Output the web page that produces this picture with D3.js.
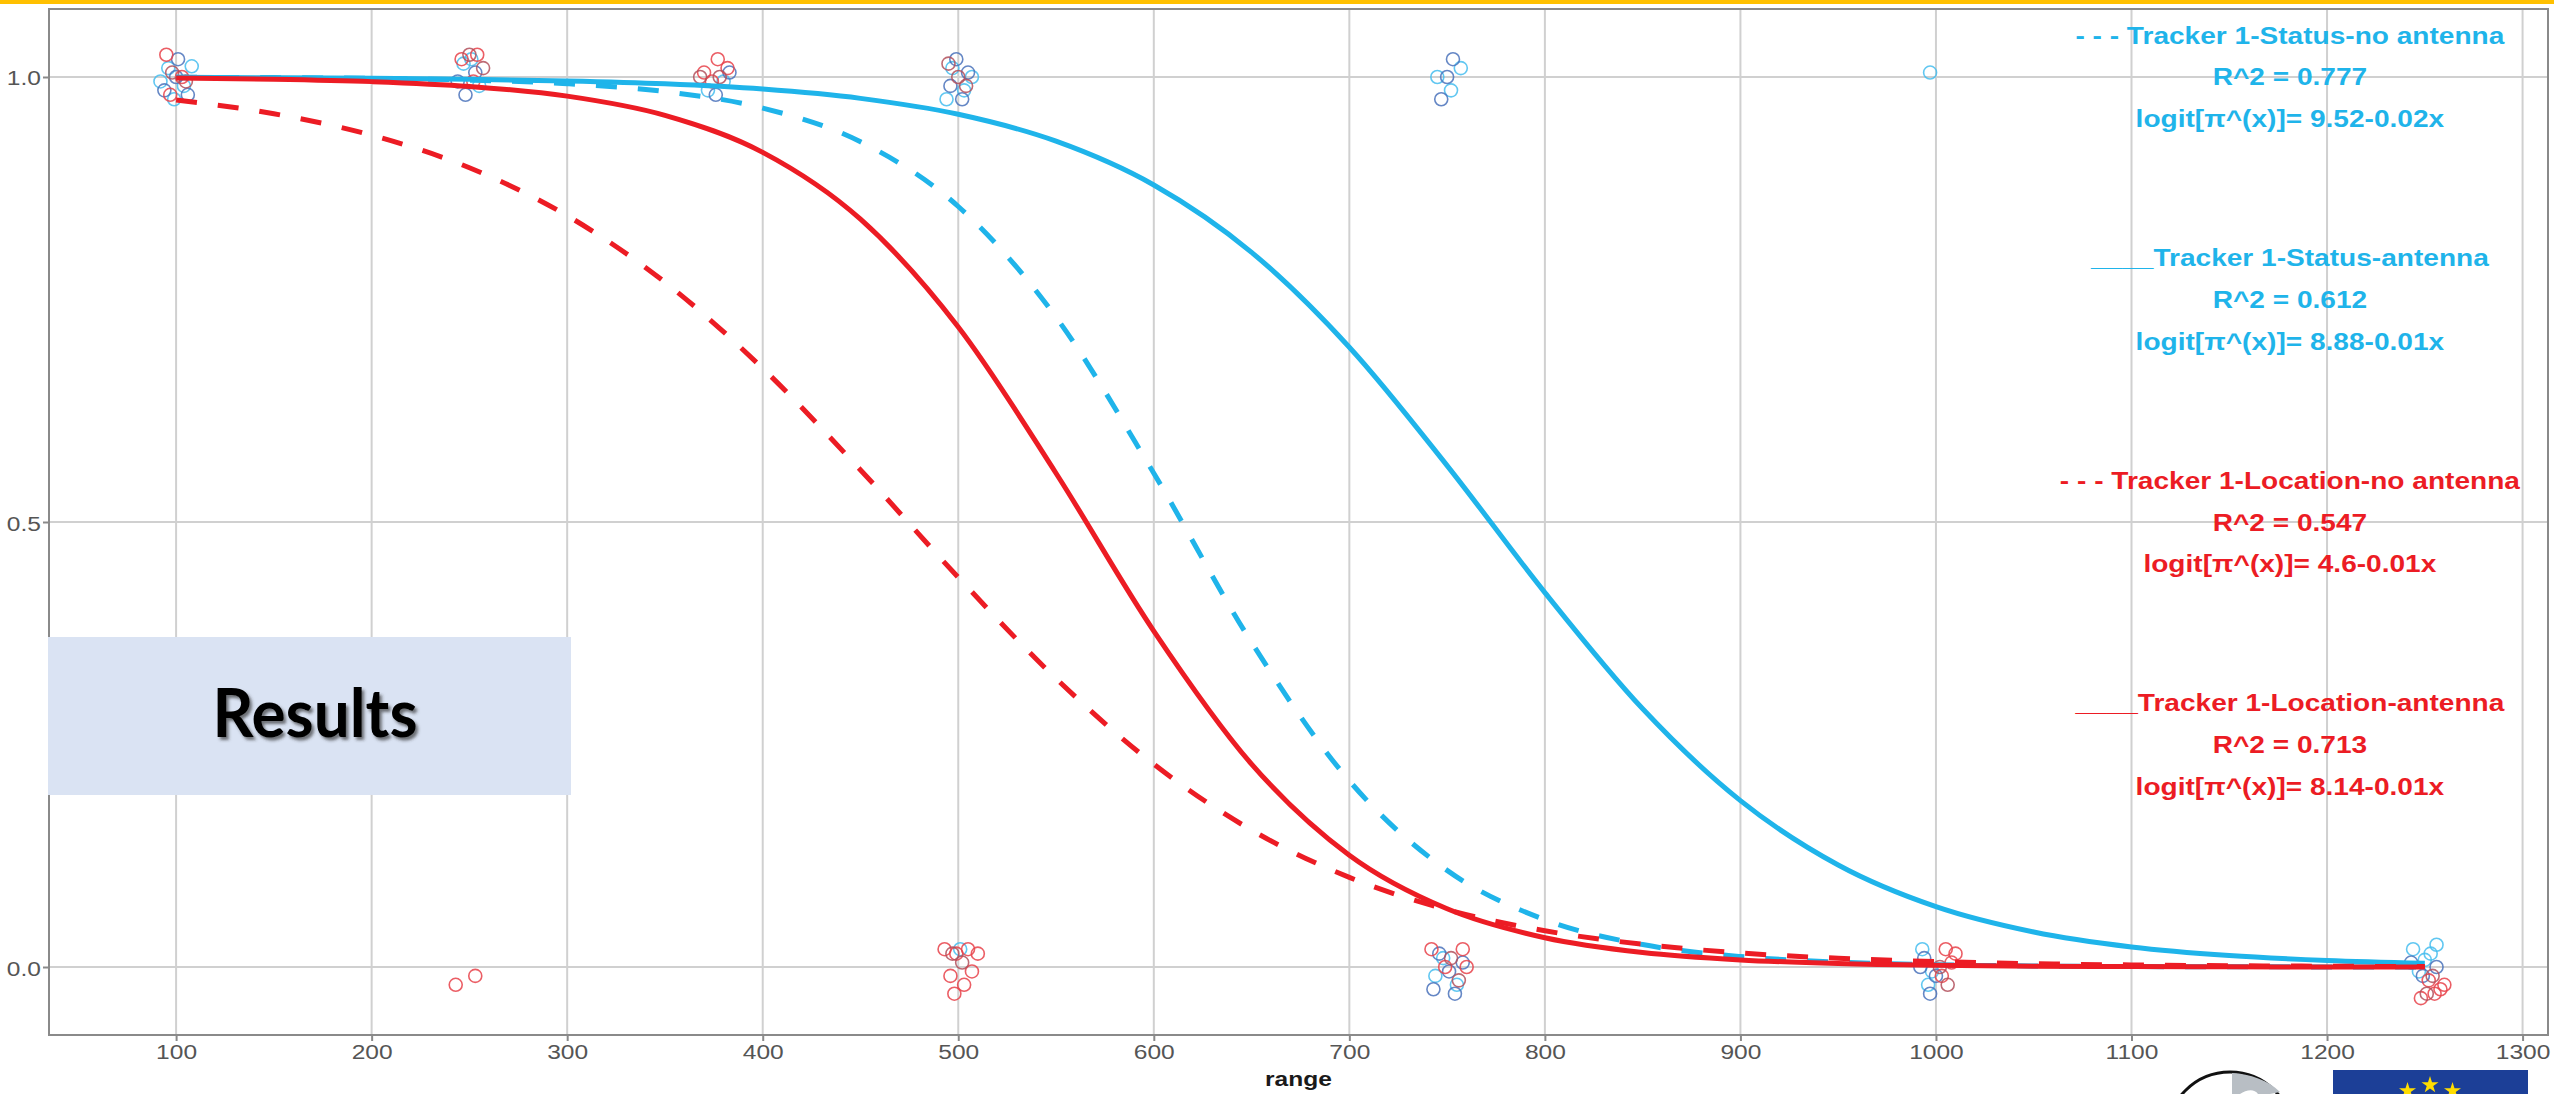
<!DOCTYPE html>
<html>
<head>
<meta charset="utf-8">
<script src="https://cdn.jsdelivr.net/npm/d3@7/dist/d3.min.js"></script>
<style>
  html, body { margin: 0; padding: 0; background: #fff; }
  svg { display: block; }
</style>
</head>
<body>
<div id="chart"></div>
<script>
// ---- data ----
var xTicks = [100, 200, 300, 400, 500, 600, 700, 800, 900, 1000, 1100, 1200, 1300];
var yTicks = [0, 0.5, 1];
var yTickLabels = ['0.0', '0.5', '1.0'];

// fitted curves, read at every 50 m of range
var curveRange = [100, 150, 200, 250, 300, 350, 400, 450, 500, 550, 600, 650,
                  700, 750, 800, 850, 900, 950, 1000, 1050, 1100, 1150, 1200, 1250];
var statusNoAntenna = [0.9997, 0.9993, 0.9984, 0.9965, 0.9924, 0.9836, 0.9651, 0.9272, 0.8545, 0.7301, 0.5548, 0.3647,
                       0.2092, 0.1086, 0.0531, 0.0252, 0.0118, 0.0055, 0.0025, 0.0012, 0.0005, 0.0003, 0.0001, 0.0001];
var statusAntenna = [0.9996, 0.9992, 0.9986, 0.9975, 0.9956, 0.9923, 0.9864, 0.9760, 0.9581, 0.9279, 0.8787, 0.8030,
                     0.6964, 0.5634, 0.4207, 0.2901, 0.1869, 0.1146, 0.0678, 0.0393, 0.0225, 0.0128, 0.0073, 0.0041];
var locationNoAntenna = [0.9742, 0.9587, 0.9346, 0.8980, 0.8442, 0.7694, 0.6726, 0.5585, 0.4378, 0.3241, 0.2280, 0.1538,
                         0.1007, 0.0645, 0.0407, 0.0255, 0.0158, 0.0098, 0.0061, 0.0037, 0.0023, 0.0014, 0.0009, 0.0005];
var locationAntenna = [0.9988, 0.9975, 0.9948, 0.9894, 0.9785, 0.9569, 0.9153, 0.8402, 0.7191, 0.5548, 0.3775, 0.2280,
                       0.1256, 0.0654, 0.0329, 0.0163, 0.0080, 0.0039, 0.0019, 0.0009, 0.0005, 0.0002, 0.0001, 0.0001];

// jittered observations [range, outcome]
var ptsStatusNoAntenna = [[96,1.01],[104,0.99],[99,0.975],[108,1.012],[92,0.995],
  [247,1.015],[255,0.99],[251,1.02],[372,0.985],[380,0.995],
  [497,1.01],[503,0.985],[507,1.0],[494,0.975],[501,0.02],
  [745,1.0],[752,0.985],[757,1.01],[748,0.01],[755,-0.02],[744,-0.01],
  [997,1.005],[993,0.02],[998,-0.005],[996,-0.02],
  [1244,0.02],[1250,0.008],[1256,0.025],[1247,-0.005],[1253,0.015]];
var ptsStatusAntenna = [[100,1.0],[94,0.985],[106,0.98],[101,1.02],
  [244,0.995],[253,1.005],[248,0.98],[376,0.98],[383,1.005],
  [499,1.02],[505,1.005],[496,0.99],[502,0.975],
  [747,0.975],[753,1.02],[750,1.0],[746,0.015],[751,-0.005],[758,0.005],[743,-0.025],[754,-0.03],
  [994,0.01],[1000,-0.01],[992,0.0],[997,-0.03],
  [1249,-0.01],[1243,0.005],[1256,0.0]];
var ptsLocationNoAntenna = [[95,1.025],[103,1.0],[97,0.98],
  [246,1.02],[252,0.995],[254,1.025],[243,-0.02],[253,-0.01],
  [370,1.005],[377,1.02],[382,1.01],[374,0.995],
  [493,0.02],[499,0.015],[505,0.02],[510,0.015],[496,-0.01],[503,-0.02],[498,-0.03],[507,-0.005],
  [742,0.02],[758,0.02],[760,0.0],[749,0.0],
  [1005,0.02],[1008,0.005],[1003,-0.01],[1010,0.015],
  [1252,-0.015],[1258,-0.025],[1248,-0.035],[1255,-0.03],[1260,-0.02]];
var ptsLocationAntenna = [[98,1.005],[105,0.995],[250,1.025],[257,1.01],
  [378,1.0],[368,1.0],[500,1.0],[504,0.99],[495,1.015],[497,0.015],[502,0.005],
  [752,0.01],[756,-0.015],[1002,0.0],[1006,-0.02],[1254,-0.01],[1251,-0.03]];

var annTitles = ['- - - Tracker 1-Status-no antenna', '____Tracker 1-Status-antenna',
                 '- - - Tracker 1-Location-no antenna', '____Tracker 1-Location-antenna'];
var annR2 = ['R^2 = 0.777', 'R^2 = 0.612', 'R^2 = 0.547', 'R^2 = 0.713'];
var annLogit = ['logit[\u03c0^(x)]= 9.52-0.02x', 'logit[\u03c0^(x)]= 8.88-0.01x',
                'logit[\u03c0^(x)]= 4.6-0.01x', 'logit[\u03c0^(x)]= 8.14-0.01x'];

// ---- setup ----
var width = 2554, height = 1094;
var panel = {left: 49, right: 2548, top: 9, bottom: 1035};
var blue = '#1fb4ea', red = '#ec1c24';
var font = '"Liberation Sans", Arial, sans-serif';
var stretch = 1.17;

var x = d3.scaleLinear().domain([35, 1313]).range([panel.left, panel.right]);
var y = d3.scaleLinear().domain([-0.0764, 1.0764]).range([panel.bottom, panel.top]);

var svg = d3.select('#chart')
  .append('svg')
  .attr('width', width)
  .attr('height', height);

var defs = svg.append('defs');
defs.append('filter')
  .attr('id', 'shadow')
  .attr('x', '-10%').attr('y', '-20%').attr('width', '130%').attr('height', '150%')
  .append('feDropShadow')
  .attr('dx', 2.5).attr('dy', 3)
  .attr('stdDeviation', 1.6)
  .attr('flood-color', '#333')
  .attr('flood-opacity', 0.65);
defs.append('clipPath').attr('id', 'panel-clip')
  .append('rect')
  .attr('x', panel.left).attr('y', panel.top)
  .attr('width', panel.right - panel.left).attr('height', panel.bottom - panel.top);

// orange strip along the top of the slide
svg.append('rect')
  .attr('x', 0).attr('y', 0)
  .attr('width', width).attr('height', 4)
  .attr('fill', '#ffc000');

// grid
svg.append('g').selectAll('line')
  .data(xTicks)
  .enter()
  .append('line')
  .attr('x1', function(d){ return x(d); })
  .attr('x2', function(d){ return x(d); })
  .attr('y1', panel.top).attr('y2', panel.bottom)
  .attr('stroke', '#d0d0d0')
  .attr('stroke-width', 2);

svg.append('g').selectAll('line')
  .data(yTicks)
  .enter()
  .append('line')
  .attr('y1', function(d){ return y(d); })
  .attr('y2', function(d){ return y(d); })
  .attr('x1', panel.left).attr('x2', panel.right)
  .attr('stroke', '#d0d0d0')
  .attr('stroke-width', 2);

// axes
var xAxis = svg.append('g')
  .attr('transform', 'translate(0,' + panel.bottom + ')')
  .call(d3.axisBottom(x).tickValues(xTicks).tickSize(6).tickPadding(0).tickFormat(d3.format('d')));
var yAxis = svg.append('g')
  .attr('transform', 'translate(' + panel.left + ',0)')
  .call(d3.axisLeft(y).tickValues(yTicks).tickSize(6).tickPadding(0)
    .tickFormat(function(d, i){ return yTickLabels[i]; }));

[xAxis, yAxis].forEach(function(ax){
  ax.select('.domain').remove();
  ax.selectAll('.tick line').attr('stroke', '#8a8a8a').attr('stroke-width', 2);
  ax.selectAll('.tick text')
    .attr('fill', '#555')
    .style('font-family', font)
    .style('font-size', '21px');
});
xAxis.selectAll('.tick text')
  .attr('y', null).attr('dy', null)
  .attr('transform', 'translate(0,24) scale(' + stretch + ',1)');
yAxis.selectAll('.tick text')
  .attr('x', null).attr('dy', null)
  .attr('transform', 'translate(-8,8) scale(' + stretch + ',1)');

svg.append('text')
  .attr('transform', 'translate(' + ((panel.left + panel.right) / 2) + ',1086) scale(' + stretch + ',1)')
  .attr('text-anchor', 'middle')
  .attr('fill', '#1a1a1a')
  .style('font-family', font)
  .style('font-weight', 'bold')
  .style('font-size', '21px')
  .text('range');

// observations
var pointSets = [
  {pts: ptsStatusNoAntenna, color: '#45bdee'},
  {pts: ptsStatusAntenna, color: '#4a72bb'},
  {pts: ptsLocationNoAntenna, color: '#e8424a'},
  {pts: ptsLocationAntenna, color: '#b2505c'}
];
var plot = svg.append('g').attr('clip-path', 'url(#panel-clip)');
pointSets.forEach(function(s){
  plot.append('g').selectAll('circle')
    .data(s.pts)
    .enter()
    .append('circle')
    .attr('cx', function(d){ return x(d[0]); })
    .attr('cy', function(d){ return y(d[1]); })
    .attr('r', 6.5)
    .attr('fill', 'none')
    .attr('stroke', s.color)
    .attr('stroke-opacity', 0.85)
    .attr('stroke-width', 1.6);
});

// fitted curves
var line = d3.line()
  .x(function(d){ return x(d[0]); })
  .y(function(d){ return y(d[1]); })
  .curve(d3.curveMonotoneX);

var curves = [
  {vals: statusAntenna, color: blue, dash: null},
  {vals: statusNoAntenna, color: blue, dash: '21,21'},
  {vals: locationAntenna, color: red, dash: null},
  {vals: locationNoAntenna, color: red, dash: '21,21'}
];
curves.forEach(function(c){
  plot.append('path')
    .datum(curveRange.map(function(r, i){ return [r, c.vals[i]]; }))
    .attr('d', line)
    .attr('fill', 'none')
    .attr('stroke', c.color)
    .attr('stroke-width', 5)
    .attr('stroke-dasharray', c.dash);
});

// panel border
svg.append('rect')
  .attr('x', panel.left).attr('y', panel.top)
  .attr('width', panel.right - panel.left).attr('height', panel.bottom - panel.top)
  .attr('fill', 'none')
  .attr('stroke', '#8a8a8a')
  .attr('stroke-width', 2);

// annotations, one block per fit
var annX = 1181;
var annCentres = [1.0, 0.75, 0.5, 0.25];
var annStep = 0.047;
var annColors = [blue, blue, red, red];
annCentres.forEach(function(c, i){
  var rows = [annTitles[i], annR2[i], annLogit[i]];
  rows.forEach(function(t, j){
    svg.append('text')
      .attr('transform', 'translate(' + x(annX) + ',' + (y(c + annStep * (1 - j)) + 8.5) + ') scale(' + stretch + ',1)')
      .attr('text-anchor', 'middle')
      .attr('fill', annColors[i])
      .style('font-family', font)
      .style('font-weight', 'bold')
      .style('font-size', '24px')
      .text(t);
  });
});

// "Results" slide label
svg.append('rect')
  .attr('x', 48).attr('y', 637)
  .attr('width', 523).attr('height', 158)
  .attr('fill', '#dae3f3');
svg.append('text')
  .attr('x', 315).attr('y', 737)
  .attr('text-anchor', 'middle')
  .attr('textLength', 205)
  .attr('lengthAdjust', 'spacingAndGlyphs')
  .attr('fill', '#000')
  .attr('filter', 'url(#shadow)')
  .style('font-family', 'Lato, "Open Sans", sans-serif')
  .style('font-weight', 'bold')
  .style('font-size', '66px')
  .text('Results');

// logos peeking in at the bottom right
var logos = svg.append('g');
logos.append('circle')
  .attr('cx', 2230).attr('cy', 1135).attr('r', 63)
  .attr('fill', '#fff')
  .attr('stroke', '#111')
  .attr('stroke-width', 3);
logos.append('path')
  .attr('d', 'M2232,1073 C2250,1074 2268,1080 2280,1092 L2270,1094 L2258,1094 C2254,1088 2246,1090 2240,1094 L2232,1094 Z')
  .attr('fill', '#b8bec4');
logos.append('rect')
  .attr('x', 2333).attr('y', 1070)
  .attr('width', 195).attr('height', 30)
  .attr('fill', '#1c3f97');
var star = d3.symbol().type(d3.symbolStar).size(90);
[0, 30, -30, 60, -60].forEach(function(a){
  var rad = a * Math.PI / 180;
  logos.append('path')
    .attr('d', star)
    .attr('transform', 'translate(' + (2430 + 45 * Math.sin(rad)) + ',' + (1130 - 45 * Math.cos(rad)) + ')')
    .attr('fill', '#ffdd00');
});
</script>
</body>
</html>
